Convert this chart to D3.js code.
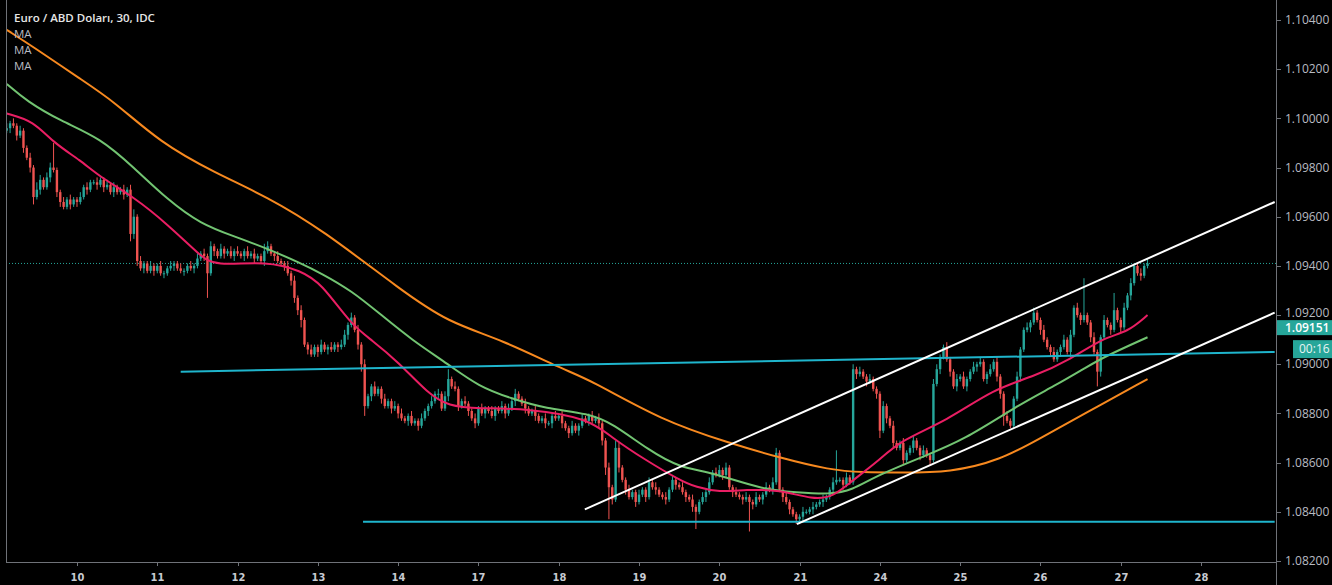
<!DOCTYPE html>
<html>
<head>
<meta charset="utf-8">
<script src="https://cdn.jsdelivr.net/npm/d3@7"></script>
<style>
html, body { margin: 0; padding: 0; background: #000; overflow: hidden; }
svg { display: block; }
</style>
</head>
<body>
<div id="chart"></div>
<script>
// hourly bars, bar 0 = day before the 10th, 03:00
var dayLabels = ['10', '11', '12', '13', '14', '17', '18', '19', '20', '21', '24', '25', '26', '27', '28'];
var priceTicks = [1.082, 1.084, 1.086, 1.088, 1.090, 1.092, 1.094, 1.096, 1.098, 1.100, 1.102, 1.104];

var firstOpen = 1.0995;
var closes = [
    1.0996,1.0998,1.0997,1.0993,1.0995,1.0988,1.0984,1.0980,1.0968,1.0971,1.0975,1.0972,1.0976,1.0980,1.0979,1.0970,1.0966,1.0964,1.0967,1.0965,1.0967,
    1.0966,1.0968,1.0972,1.0971,1.0974,1.0974,1.0973,1.0975,1.0972,1.0973,1.0970,1.0972,1.0970,1.0971,1.0969,1.0971,1.0953,1.0960,1.0942,1.0939,1.0941,1.0938,1.0940,1.0938,
    1.0940,1.0937,1.0937,1.0939,1.0940,1.0941,1.0939,1.0938,1.0938,1.0940,1.0939,1.0940,1.0943,1.0945,1.0944,1.0937,1.0948,1.0946,1.0944,1.0947,1.0945,1.0946,1.0944,1.0946,
    1.0945,1.0944,1.0946,1.0944,1.0945,1.0943,1.0944,1.0942,1.0946,1.0948,1.0945,1.0944,1.0942,1.0941,1.0940,1.0937,1.0934,1.0927,1.0922,1.0918,1.0908,1.0906,1.0904,1.0907,
    1.0905,1.0908,1.0906,1.0907,1.0906,1.0908,1.0907,1.0908,1.0912,1.0916,1.0919,1.0914,1.0908,1.0900,1.0883,1.0887,1.0891,1.0888,1.0890,1.0886,1.0883,1.0885,1.0882,1.0883,
    1.0880,1.0878,1.0877,1.0879,1.0876,1.0877,1.0875,1.0878,1.0881,1.0883,1.0885,1.0888,1.0888,1.0882,1.0887,1.0894,1.0891,1.0890,1.0883,1.0885,1.0884,1.0881,1.0878,1.0876,
    1.0882,1.0880,1.0882,1.0881,1.0879,1.0882,1.0881,1.0883,1.0880,1.0882,1.0885,1.0888,1.0886,1.0884,1.0882,1.0880,1.0881,1.0879,1.0877,1.0878,1.0876,1.0876,1.0879,1.0878,
    1.0879,1.0876,1.0874,1.0872,1.0875,1.0873,1.0875,1.0878,1.0877,1.0879,1.0877,1.0878,1.0876,1.0869,1.0858,1.0850,1.0845,1.0866,1.0858,1.0853,1.0849,1.0846,1.0848,1.0844,
    1.0847,1.0849,1.0846,1.0852,1.0850,1.0849,1.0847,1.0846,1.0845,1.0849,1.0853,1.0851,1.0850,1.0848,1.0846,1.0845,1.0842,1.0840,1.0844,1.0846,1.0848,1.0852,1.0856,1.0855,
    1.0857,1.0855,1.0858,1.0850,1.0848,1.0847,1.0846,1.0845,1.0846,1.0844,1.0843,1.0846,1.0845,1.0847,1.0850,1.0849,1.0852,1.0864,1.0849,1.0846,1.0844,1.0841,1.0839,1.0837,
    1.0838,1.0840,1.0840,1.0841,1.0842,1.0843,1.0844,1.0845,1.0846,1.0849,1.0852,1.0853,1.0853,1.0851,1.0854,1.0852,1.0898,1.0896,1.0897,1.0895,1.0893,1.0894,1.0890,1.0888,
    1.0873,1.0883,1.0878,1.0875,1.0868,1.0866,1.0868,1.0861,1.0864,1.0866,1.0869,1.0866,1.0863,1.0865,1.0863,1.0861,1.0892,1.0898,1.0903,1.0907,1.0902,1.0897,1.0891,1.0894,
    1.0895,1.0891,1.0894,1.0897,1.0899,1.0900,1.0901,1.0894,1.0896,1.0898,1.0901,1.0895,1.0888,1.0879,1.0877,1.0875,1.0886,1.0895,1.0906,1.0914,1.0915,1.0917,1.0921,1.0918,
    1.0914,1.0910,1.0907,1.0905,1.0902,1.0905,1.0907,1.0910,1.0905,1.0912,1.0923,1.0920,1.0918,1.0920,1.0917,1.0911,1.0905,1.0897,1.0911,1.0918,1.0916,1.0914,1.0922,1.0918,
    1.0915,1.0923,1.0928,1.0933,1.0940,1.0937,1.0936,1.0940,1.0941
];
// wick length above / below the body, in pips
var wickUp = [
    2,1,2,1,2,1,1,2,1,3,2,1,2,2,10,1,1,2,1,2,1,
    1,2,1,2,1,1,2,1,1,2,1,2,1,1,2,1,2,3,1,2,1,1,2,1,
    1,2,1,1,2,1,1,2,1,1,2,1,2,1,2,1,2,1,1,2,1,1,2,1,
    2,1,1,2,1,2,1,1,3,2,1,1,2,1,1,2,1,2,1,2,1,1,2,1,
    1,2,1,1,2,1,1,2,2,1,2,1,2,1,2,1,1,2,1,1,2,1,1,2,
    1,2,1,1,2,1,1,2,1,1,2,1,2,1,2,4,1,2,1,1,2,1,1,2,
    1,2,1,1,2,1,1,2,1,2,1,2,1,1,2,1,1,2,1,1,2,1,1,2,
    1,2,1,1,2,1,1,2,1,1,2,1,2,1,1,2,1,3,2,1,1,2,1,1,
    2,1,1,2,1,2,1,1,2,1,2,1,1,2,1,1,2,1,1,2,1,2,1,2,
    2,1,2,1,1,2,1,1,2,1,1,2,1,1,2,1,2,2,1,1,2,1,1,1,
    1,2,1,1,2,1,1,2,1,1,2,12,1,1,2,1,2,1,2,1,1,2,1,1,
    1,2,1,1,2,1,1,2,1,1,2,1,1,2,1,1,2,2,1,1,2,1,1,2,
    1,2,1,1,2,1,2,1,1,2,1,2,1,1,2,1,1,2,1,1,2,1,2,1,
    1,2,1,1,2,1,1,2,1,2,1,2,1,15,1,1,2,1,1,2,1,1,7,1,
    1,2,1,2,1,1,2,1,2
];
var wickDn = [
    1,2,1,2,1,2,1,2,3,1,2,1,1,2,1,2,2,1,1,2,1,
    2,1,1,2,1,1,2,1,2,1,1,2,1,1,2,1,3,2,2,1,2,1,1,2,
    1,1,2,1,1,2,1,1,2,1,1,2,1,1,2,10,1,2,1,1,2,1,1,2,
    1,1,2,1,1,2,1,1,2,1,1,2,1,1,2,1,2,2,2,3,1,2,1,1,
    2,1,1,2,1,1,2,1,1,2,1,1,2,3,4,1,2,1,1,2,1,1,2,1,
    2,1,1,2,1,1,2,1,1,2,1,1,2,1,1,2,1,1,2,1,1,2,1,2,
    1,1,2,1,1,2,1,1,2,1,1,2,1,1,2,1,1,2,1,1,2,1,2,1,
    1,2,1,2,1,1,2,1,1,2,1,1,2,2,3,13,2,1,2,1,2,1,1,2,
    1,1,2,1,1,2,1,1,2,1,1,2,1,1,2,1,2,7,1,1,2,1,1,1,
    1,2,1,1,2,1,1,2,1,12,2,1,1,2,1,1,2,1,1,2,1,2,1,2,
    1,2,1,1,2,1,1,2,1,1,2,1,1,2,1,1,1,2,1,1,2,1,1,2,
    3,1,2,1,2,1,1,2,1,1,2,1,2,1,1,2,1,1,2,1,1,2,1,2,
    1,1,2,1,1,2,1,1,2,1,1,2,2,4,1,1,1,1,2,1,1,2,1,1,
    2,1,1,2,1,1,2,1,1,2,1,1,2,1,1,2,1,6,2,1,1,2,1,1,
    2,1,1,2,1,1,2,1,1
];

// moving averages: [bar, price]
var maRed = [[0,1.1002],[8,1.0999],[14,1.0990],[22,1.0983],[28,1.0976],[38,1.0968],[48,1.0957],[58,1.0944],[62,1.0940],[78,1.0942],[88,1.0938],[94,1.0933],[103,1.0916],[109,1.0910],[117,1.0901],[126,1.0888],[132,1.0883],[141,1.0882],[156,1.0882],[174,1.0878],[181,1.0870],[191,1.0861],[201,1.0853],[206,1.0850],[213,1.0848],[221,1.0849],[231,1.0849],[241,1.0845],[247,1.0846],[253,1.0853],[260,1.0860],[267,1.0869],[281,1.0877],[295,1.0890],[307,1.0895],[318,1.0902],[328,1.0911],[335,1.0913],[341,1.0920]];
var maGreen = [[0,1.1014],[6,1.1007],[16,1.0999],[28,1.0992],[38,1.0980],[48,1.0967],[58,1.0957],[68,1.0952],[78,1.0947],[88,1.0941],[94,1.0937],[103,1.0930],[112,1.0920],[121,1.0910],[132,1.0900],[141,1.0891],[151,1.0886],[161,1.0882],[174,1.0880],[181,1.0876],[192,1.0865],[201,1.0858],[211,1.0856],[226,1.0849],[236,1.0848],[246,1.0847],[253,1.0849],[259,1.0854],[273,1.0862],[286,1.0869],[303,1.0884],[313,1.0891],[323,1.0899],[328,1.0903],[341,1.0911]];
var maOrange = [[0,1.1036],[8,1.1029],[22,1.1016],[32,1.1007],[46,1.0990],[62,1.0978],[78,1.0968],[94,1.0955],[118,1.0930],[132,1.0917],[148,1.0910],[166,1.0898],[174,1.0894],[196,1.0877],[216,1.0868],[231,1.0862],[246,1.0857],[256,1.0856],[267,1.0856],[282,1.0856],[297,1.0861],[309,1.0870],[321,1.0879],[341,1.0894]];

// drawn lines: [[bar, price], [bar, price]]
var levelLines = [[[52, 1.0897], [379, 1.0905]], [[106.5, 1.0836], [379, 1.0836]]];
var channelLines = [[[172.8, 1.0841], [379, 1.0966]], [[236.2, 1.0835], [379, 1.0921]]];

var labelPrice = 1.09151;
var countdown = '00:16';

var W = 1332, H = 585;
var plotL = 6, plotR = 1276, plotB = 562;
var x = d3.scaleLinear().domain([-0.22, 379.1]).range([plotL, plotR - 1]);
var y = d3.scaleLinear().domain([1.082, 1.104]).range([561, 20]);

var svg = d3.select('#chart').append('svg').attr('width', W).attr('height', H);
svg.append('rect').attr('width', W).attr('height', H).attr('fill', '#000');

svg.append('clipPath').attr('id', 'plot').append('rect')
    .attr('x', plotL).attr('y', 0).attr('width', plotR - plotL).attr('height', plotB);
var g = svg.append('g').attr('clip-path', 'url(#plot)');

var bars = closes.map(function(c, i) {
    var o = i === 0 ? firstOpen : closes[i - 1];
    return {
        i: i, o: o, c: c,
        h: Math.max(o, c) + (wickUp[i] || 0) * 0.0001,
        l: Math.min(o, c) - (wickDn[i] || 0) * 0.0001
    };
});
var upCol = '#26a69a', dnCol = '#ef5350';

// last price line
g.append('line')
    .attr('x1', plotL).attr('x2', plotR)
    .attr('y1', y(closes[closes.length - 1])).attr('y2', y(closes[closes.length - 1]))
    .attr('stroke', '#26a69a').attr('stroke-width', 1).attr('stroke-dasharray', '1,2');

var cg = g.append('g');
cg.selectAll('line.wick').data(bars).enter().append('line')
    .attr('x1', d => x(d.i)).attr('x2', d => x(d.i))
    .attr('y1', d => y(d.h)).attr('y2', d => y(d.l))
    .attr('stroke', d => d.c >= d.o ? upCol : dnCol).attr('stroke-width', 1);
cg.selectAll('rect').data(bars).enter().append('rect')
    .attr('x', d => x(d.i) - 1.2).attr('width', 2.4)
    .attr('y', d => y(Math.max(d.o, d.c)))
    .attr('height', d => Math.max(1, Math.abs(y(d.o) - y(d.c))))
    .attr('fill', d => d.c >= d.o ? upCol : dnCol);

var maLine = d3.line().x(d => x(d[0])).y(d => y(d[1])).curve(d3.curveBasis);
[[maOrange, '#f7891f'], [maGreen, '#72c472'], [maRed, '#e91e63']].forEach(function(m) {
    g.append('path').attr('d', maLine(m[0]))
        .attr('fill', 'none').attr('stroke', m[1]).attr('stroke-width', 2);
});

var seg = d3.line().x(d => x(d[0])).y(d => y(d[1]));
levelLines.forEach(function(l) {
    g.append('path').attr('d', seg(l)).attr('stroke', '#1fb5cc').attr('stroke-width', 2).attr('fill', 'none');
});
channelLines.forEach(function(l) {
    g.append('path').attr('d', seg(l)).attr('stroke', '#ffffff').attr('stroke-width', 2).attr('fill', 'none');
});

// frame
var axisCol = '#6f7278';
svg.append('line').attr('x1', plotL + 0.5).attr('x2', plotL + 0.5).attr('y1', 0).attr('y2', plotB).attr('stroke', axisCol);
svg.append('line').attr('x1', plotL).attr('x2', plotR).attr('y1', plotB + 0.5).attr('y2', plotB + 0.5).attr('stroke', axisCol);
svg.append('line').attr('x1', plotR + 0.5).attr('x2', plotR + 0.5).attr('y1', 0).attr('y2', H).attr('stroke', axisCol);

// price axis
var ly = y(labelPrice);
var yAxis = svg.append('g').attr('font-family', '"Open Sans", "Noto Sans", sans-serif').attr('font-size', 12);
priceTicks.forEach(function(p) {
    var ty = y(p);
    // a label that would sit under the price box is pushed just above it
    var textY = Math.abs(ty - ly) < 15 ? ly - 14 : ty;
    yAxis.append('line').attr('x1', plotR).attr('x2', plotR + 5)
        .attr('y1', Math.round(ty) + 0.5).attr('y2', Math.round(ty) + 0.5).attr('stroke', axisCol);
    yAxis.append('text').attr('x', plotR + 9).attr('y', textY).attr('dy', '0.35em')
        .attr('fill', '#b8bbc2').text(d3.format('.5f')(p));
});

// time axis
var xAxis = svg.append('g').attr('font-family', '"DejaVu Sans Condensed", "Liberation Sans Narrow", sans-serif')
    .attr('font-size', 11).attr('font-weight', 'bold');
dayLabels.forEach(function(lab, i) {
    var px = Math.round(x(21 + 24 * i)) + 0.5;
    xAxis.append('line').attr('x1', px).attr('x2', px).attr('y1', plotB).attr('y2', plotB + 4).attr('stroke', axisCol);
    xAxis.append('text').attr('x', px).attr('y', 581).attr('text-anchor', 'middle')
        .attr('fill', '#c8cbd2').text(lab);
});

// price and countdown labels
svg.append('rect').attr('x', plotR + 1).attr('y', ly - 7).attr('width', W - plotR).attr('height', 15).attr('fill', '#26a69a');
svg.append('text').attr('x', plotR + 9).attr('y', ly + 0.5).attr('dy', '0.35em')
    .attr('font-family', '"Open Sans", "Noto Sans", sans-serif').attr('font-size', 12).attr('font-weight', 600)
    .attr('fill', '#ffffff').text(d3.format('.5f')(labelPrice));
svg.append('rect').attr('x', 1293).attr('y', ly + 13).attr('width', W - 1293).attr('height', 18).attr('fill', '#26a69a');
svg.append('text').attr('x', 1299).attr('y', ly + 22).attr('dy', '0.35em')
    .attr('font-family', '"Open Sans", "Noto Sans", sans-serif').attr('font-size', 12)
    .attr('fill', '#e8f5f3').text(countdown);

// legend
var leg = svg.append('g').attr('font-family', '"Open Sans", "Noto Sans", sans-serif').attr('font-size', 11.5);
leg.append('text').attr('x', 14).attr('y', 22).attr('font-weight', 600).attr('fill', '#e6e6e6')
    .text('Euro / ABD Doları, 30, IDC');
['MA', 'MA', 'MA'].forEach(function(t, i) {
    leg.append('text').attr('x', 14).attr('y', 38 + i * 16).attr('fill', '#b8bbc2').text(t);
});
</script>
</body>
</html>
